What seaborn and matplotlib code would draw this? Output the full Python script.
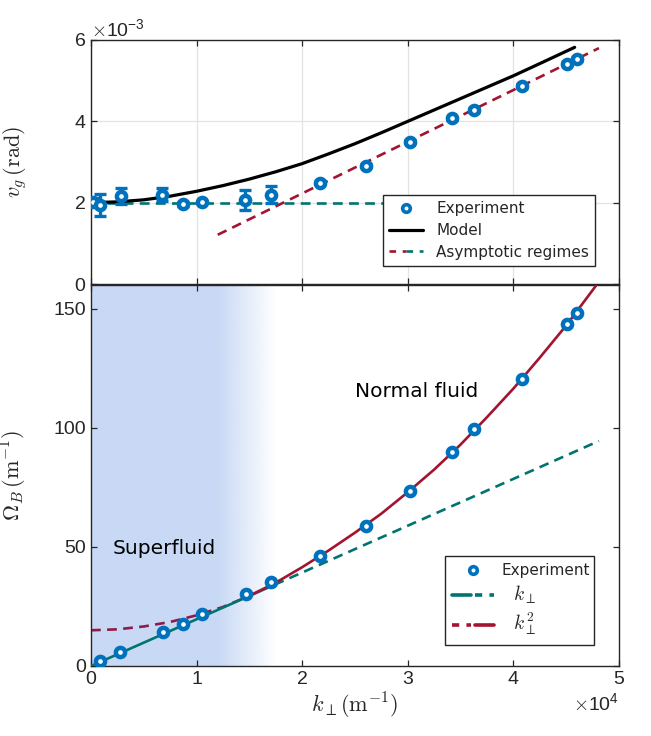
import numpy as np
import pandas as pd
import matplotlib
matplotlib.use("Agg")
import matplotlib.pyplot as plt
import seaborn as sns
from matplotlib.lines import Line2D
from matplotlib.legend_handler import HandlerTuple
from matplotlib.colors import to_rgb

# ---------------- data (k in m^-1) ----------------
k_top = [200, 850, 2800, 6700, 8750, 10550, 14630, 17000, 21700, 26000,
         30200, 34200, 36300, 40800, 45100, 46000]
vg = [2.01e-3, 1.95e-3, 2.17e-3, 2.20e-3, 1.97e-3, 2.02e-3, 2.06e-3, 2.20e-3,
      2.49e-3, 2.91e-3, 3.50e-3, 4.07e-3, 4.28e-3, 4.87e-3, 5.42e-3, 5.53e-3]
vg_err = [0.10e-3, 0.27e-3, 0.20e-3, 0.15e-3, 0.05e-3, 0.03e-3, 0.25e-3, 0.22e-3,
          0.04e-3, 0.04e-3, 0.04e-3, 0.04e-3, 0.04e-3, 0.04e-3, 0.04e-3, 0.04e-3]

model_k = [0, 2500, 5000, 7500, 10000, 12500, 15000, 17500, 20000, 22500, 25000,
           27500, 30000, 32500, 35000, 37500, 40000, 42500, 45800]
model_vg = [2.00e-3, 2.02e-3, 2.07e-3, 2.16e-3, 2.28e-3, 2.42e-3, 2.58e-3, 2.76e-3,
            2.96e-3, 3.20e-3, 3.45e-3, 3.72e-3, 4.00e-3, 4.28e-3, 4.56e-3, 4.84e-3,
            5.12e-3, 5.42e-3, 5.82e-3]

asym_lin_k = [0, 35000]
asym_lin_vg = [2.0e-3, 2.0e-3]
asym_quad_k = [12000, 48100]
asym_quad_vg = [1.21e-3, 5.80e-3]

k_bot = [850, 2700, 6800, 8700, 10500, 14700, 17000, 21700, 26000, 30200,
         34200, 36300, 40800, 45100, 46000]
omega = [1.97, 5.9, 14.3, 17.6, 21.8, 30.2, 35.2, 46.4, 59.0, 73.7,
         90.0, 99.4, 120.5, 143.8, 148.4]

lin_solid_k = [0, 16000]
lin_solid_om = [0, 31.4]
lin_dash_k = [16000, 48100]
lin_dash_om = [31.4, 94.5]

quad_dash_k = [0, 2500, 5000, 7500, 10000, 12500, 15000]
quad_dash_om = [15.0, 15.4, 16.6, 18.5, 21.3, 24.8, 29.5]
quad_solid_k = [15000, 17500, 20000, 22500, 25000, 27500, 30000, 32500, 35000,
                37500, 40000, 42500, 45000, 47800]
quad_solid_om = [29.5, 35.0, 41.5, 48.5, 56.0, 64.0, 73.0, 82.5, 93.0,
                 104.5, 116.5, 129.5, 143.0, 159.6]

shade_full_end = 12000
shade_fade_end = 17500

# ---------------- style ----------------
sns.set_theme(style="ticks")
plt.rcParams['font.family'] = ['Liberation Sans', 'DejaVu Sans']
plt.rcParams['mathtext.fontset'] = 'cm'
plt.rcParams['axes.unicode_minus'] = True

BLUE = '#0072BD'
TEAL = '#007470'
RED = '#A2142F'
RED_DARK = '#8F1C48'
DARK = '#262626'
SHADE = '#C8D9F5'

fig = plt.figure(figsize=(6.51, 7.36), dpi=100)
L, R = 91 / 651, 619 / 651
ax1 = fig.add_axes([L, 1 - 284 / 736, R - L, (284 - 40) / 736])
ax2 = fig.add_axes([L, 1 - 666 / 736, R - L, (666 - 285) / 736])

def style_axes(ax):
    for s in ax.spines.values():
        s.set_color(DARK)
        s.set_linewidth(1.0)
    ax.tick_params(direction='in', top=True, right=True, length=4.5, width=0.9,
                   colors=DARK, labelsize=14, labelcolor=DARK)

MS = 44
MLW = 3.2

# ---------------- top panel ----------------
style_axes(ax1)
ax1.grid(True, color='#E3E3E3', linewidth=0.9, zorder=0)
ax1.set_axisbelow(True)

sns.lineplot(x=asym_lin_k, y=asym_lin_vg, ax=ax1, color=TEAL, lw=1.9,
             linestyle=(0, (3.7, 2.4)), zorder=2)
sns.lineplot(x=asym_quad_k, y=asym_quad_vg, ax=ax1, color=RED, lw=1.9,
             linestyle=(0, (3.7, 2.4)), zorder=2)
sns.lineplot(x=model_k, y=model_vg, ax=ax1, color='black', lw=2.3, zorder=3)
ax1.errorbar(k_top, vg, yerr=vg_err, fmt='none', ecolor=BLUE, elinewidth=2.4,
             capsize=4, capthick=2.4, zorder=4)
sns.scatterplot(x=k_top, y=vg, ax=ax1, marker='o', s=MS, facecolor='white',
                edgecolor=BLUE, linewidth=MLW, zorder=5)

ax1.set_xlim(0, 5e4)
ax1.set_ylim(0, 6e-3)
ax1.set_xticks([0, 1e4, 2e4, 3e4, 4e4, 5e4])
ax1.set_yticks([0, 2e-3, 4e-3, 6e-3])
ax1.tick_params(labelbottom=False)
ax1.ticklabel_format(axis='y', style='sci', scilimits=(0, 0), useMathText=True)
ax1.yaxis.get_offset_text().set_fontsize(14)
ax1.yaxis.get_offset_text().set_color(DARK)
ax1.set_xlabel('')
ax1.set_ylabel(r'$v_g\,(\mathrm{rad})$', fontsize=16, color=DARK)
ax1.yaxis.set_label_coords(-0.118, 0.5)

h_exp = Line2D([], [], ls='none', marker='o', ms=5.5, mfc='white', mec=BLUE, mew=2.6)
h_mod = Line2D([], [], color='black', lw=2.3)
h_a1 = Line2D([], [], color=RED, lw=1.9, ls=(0, (2.5, 2.5)))
h_a2 = Line2D([], [], color=TEAL, lw=1.9, ls=(0, (2.5, 2.5)))
leg1 = ax1.legend([h_exp, h_mod, (h_a1, h_a2)],
                  ['Experiment', 'Model', 'Asymptotic regimes'],
                  handler_map={tuple: HandlerTuple(ndivide=None, pad=0)},
                  loc='lower left', bbox_to_anchor=(0.553, 0.074, 0.402, 0.326),
                  mode='expand', fancybox=False, framealpha=1, edgecolor=DARK,
                  prop={'family': 'DejaVu Sans', 'size': 11}, handlelength=2.2,
                  handletextpad=0.9, borderaxespad=0, labelspacing=0.45)
leg1.get_frame().set_linewidth(1.0)

# ---------------- bottom panel ----------------
style_axes(ax2)
rgb = np.array(to_rgb(SHADE))
ncol = 400
grad = np.ones((2, ncol, 4))
grad[..., :3] = rgb
xs = np.linspace(0, shade_fade_end, ncol)
alpha = np.clip((shade_fade_end - xs) / (shade_fade_end - shade_full_end), 0, 1)
grad[..., 3] = alpha
ax2.imshow(grad, extent=[0, shade_fade_end, 0, 160], aspect='auto',
           origin='lower', zorder=0, interpolation='bilinear')

sns.lineplot(x=lin_dash_k, y=lin_dash_om, ax=ax2, color=TEAL, lw=1.9,
             linestyle=(0, (3.7, 2.4)), zorder=2)
sns.lineplot(x=quad_dash_k, y=quad_dash_om, ax=ax2, color=RED_DARK, lw=1.9,
             linestyle=(0, (3.7, 2.4)), zorder=2)
sns.lineplot(x=lin_solid_k, y=lin_solid_om, ax=ax2, color=TEAL, lw=1.9, zorder=3)
sns.lineplot(x=quad_solid_k, y=quad_solid_om, ax=ax2, color=RED, lw=1.9, zorder=3)
sns.scatterplot(x=k_bot, y=omega, ax=ax2, marker='o', s=MS, facecolor='white',
                edgecolor=BLUE, linewidth=MLW, zorder=5)

ax2.set_xlim(0, 5e4)
ax2.set_ylim(0, 160)
ax2.set_xticks([0, 1e4, 2e4, 3e4, 4e4, 5e4])
ax2.set_yticks([0, 50, 100, 150])
ax2.ticklabel_format(axis='x', style='sci', scilimits=(0, 0), useMathText=True)
ax2.xaxis.get_offset_text().set_fontsize(14)
ax2.xaxis.get_offset_text().set_color(DARK)
ax2.set_xlabel(r'$k_\perp(\mathrm{m}^{-1})$', fontsize=16, color=DARK, labelpad=2)
ax2.set_ylabel(r'$\Omega_B\,(\mathrm{m}^{-1})$', fontsize=16, color=DARK)
ax2.yaxis.set_label_coords(-0.118, 0.5)

ax2.text(30800, 115.2, 'Normal fluid', ha='center', va='center', fontsize=14.5,
         family='DejaVu Sans', color='black')
ax2.text(6900, 49.5, 'Superfluid', ha='center', va='center', fontsize=14.5,
         family='DejaVu Sans', color='black')

hb_exp = Line2D([], [], ls='none', marker='o', ms=5.5, mfc='white', mec=BLUE, mew=2.6)
hk1a = Line2D([], [], color=TEAL, lw=2.6)
hk1b = Line2D([], [], color=TEAL, lw=2.6, ls=(0, (2.0, 2.0)))
hk2a = Line2D([], [], color=RED, lw=2.6, ls=(0, (2.0, 2.0)))
hk2b = Line2D([], [], color=RED, lw=2.6)
leg2 = ax2.legend([hb_exp, (hk1a, hk1b), (hk2a, hk2b)],
                  ['Experiment', r'  $k_\perp$', r'  $k_\perp^2$'],
                  handler_map={tuple: HandlerTuple(ndivide=None, pad=0.3)},
                  loc='lower left', bbox_to_anchor=(0.67, 0.055, 0.283, 0.21),
                  mode='expand', fancybox=False, framealpha=1, edgecolor=DARK,
                  prop={'family': 'DejaVu Sans', 'size': 11}, handlelength=2.7,
                  handletextpad=0.5, borderaxespad=0, labelspacing=0.35,
                  borderpad=0.5)
leg2.get_frame().set_linewidth(1.0)
for t in leg2.get_texts()[1:]:
    t.set_fontsize(14)

fig.savefig('out.png', dpi=100)
